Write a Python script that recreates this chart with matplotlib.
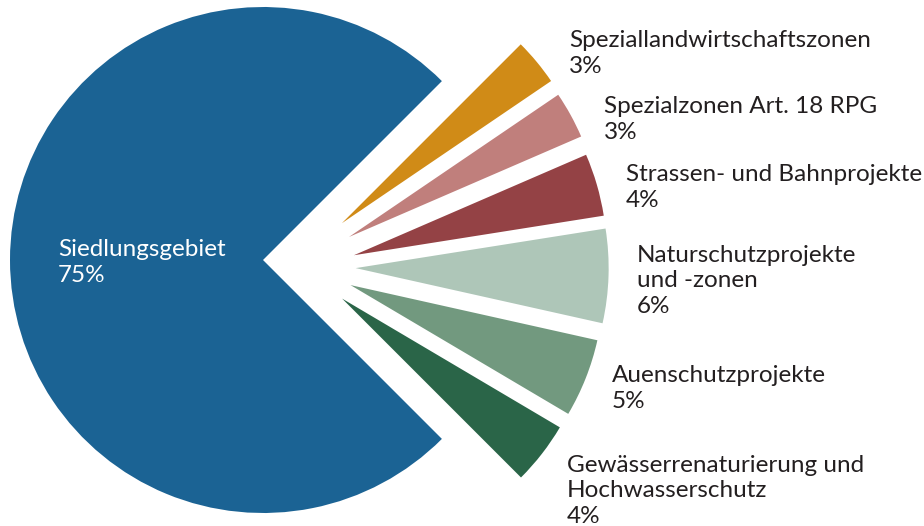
import numpy as np
import matplotlib
matplotlib.use("Agg")
import matplotlib.pyplot as plt

# ---- data ----
labels = [
    "Speziallandwirtschaftszonen",
    "Spezialzonen Art. 18 RPG",
    "Strassen- und Bahnprojekte",
    "Naturschutzprojekte\nund -zonen",
    "Auenschutzprojekte",
    "Gewässerrenaturierung und\nHochwasserschutz",
    "Siedlungsgebiet",
]
shares = [3, 3, 4, 6, 5, 4, 75]
colors = ["#d08b17", "#c07f7c", "#944245", "#aec6b8", "#72997f", "#2a6548", "#1b6394"]

# ---- layout (pixels, y from top) ----
W, H = 924, 526
CENTER = (263, 260)
RADIUS = 253
# small slices are pulled out to the right (distance, direction in deg)
shift_dist = [87, 89, 91, 93, 91, 88]
shift_dir = [25, 15, 3, -5, -16, -26]
# left x and baseline of first line
label_pos = [(569, 44), (604, 110), (626, 178), (637, 255), (612, 379), (567, 465), (58, 253)]
LINE_PX = 29
FONT = "Lato"
FS = 17.5

fig = plt.figure(figsize=(W / 100, H / 100), dpi=100)
ax = fig.add_axes([0, 0, 1, 1])

cx, cy = CENTER[0], H - CENTER[1]
wedges, _ = ax.pie(shares, colors=colors, startangle=45, counterclock=False,
                   center=(cx, cy), radius=RADIUS, frame=True,
                   wedgeprops=dict(linewidth=0))
ax.set_xlim(0, W)
ax.set_ylim(0, H)
ax.set_aspect("equal")
ax.axis("off")

for w, d, a in zip(wedges[:6], shift_dist, shift_dir):
    w.set_center((cx + d * np.cos(np.radians(a)), cy + d * np.sin(np.radians(a))))

for i, (lab, val) in enumerate(zip(labels, shares)):
    x, y = label_pos[i]
    txt = f"{lab}\n{val}%"
    y_last = y + (txt.count("\n")) * LINE_PX
    col = "white" if i == 6 else "#231f20"
    ax.text(x, H - y_last, txt, ha="left", va="baseline", fontsize=FS,
            family=FONT, color=col, linespacing=1.27)

fig.savefig("out.png", dpi=100)
